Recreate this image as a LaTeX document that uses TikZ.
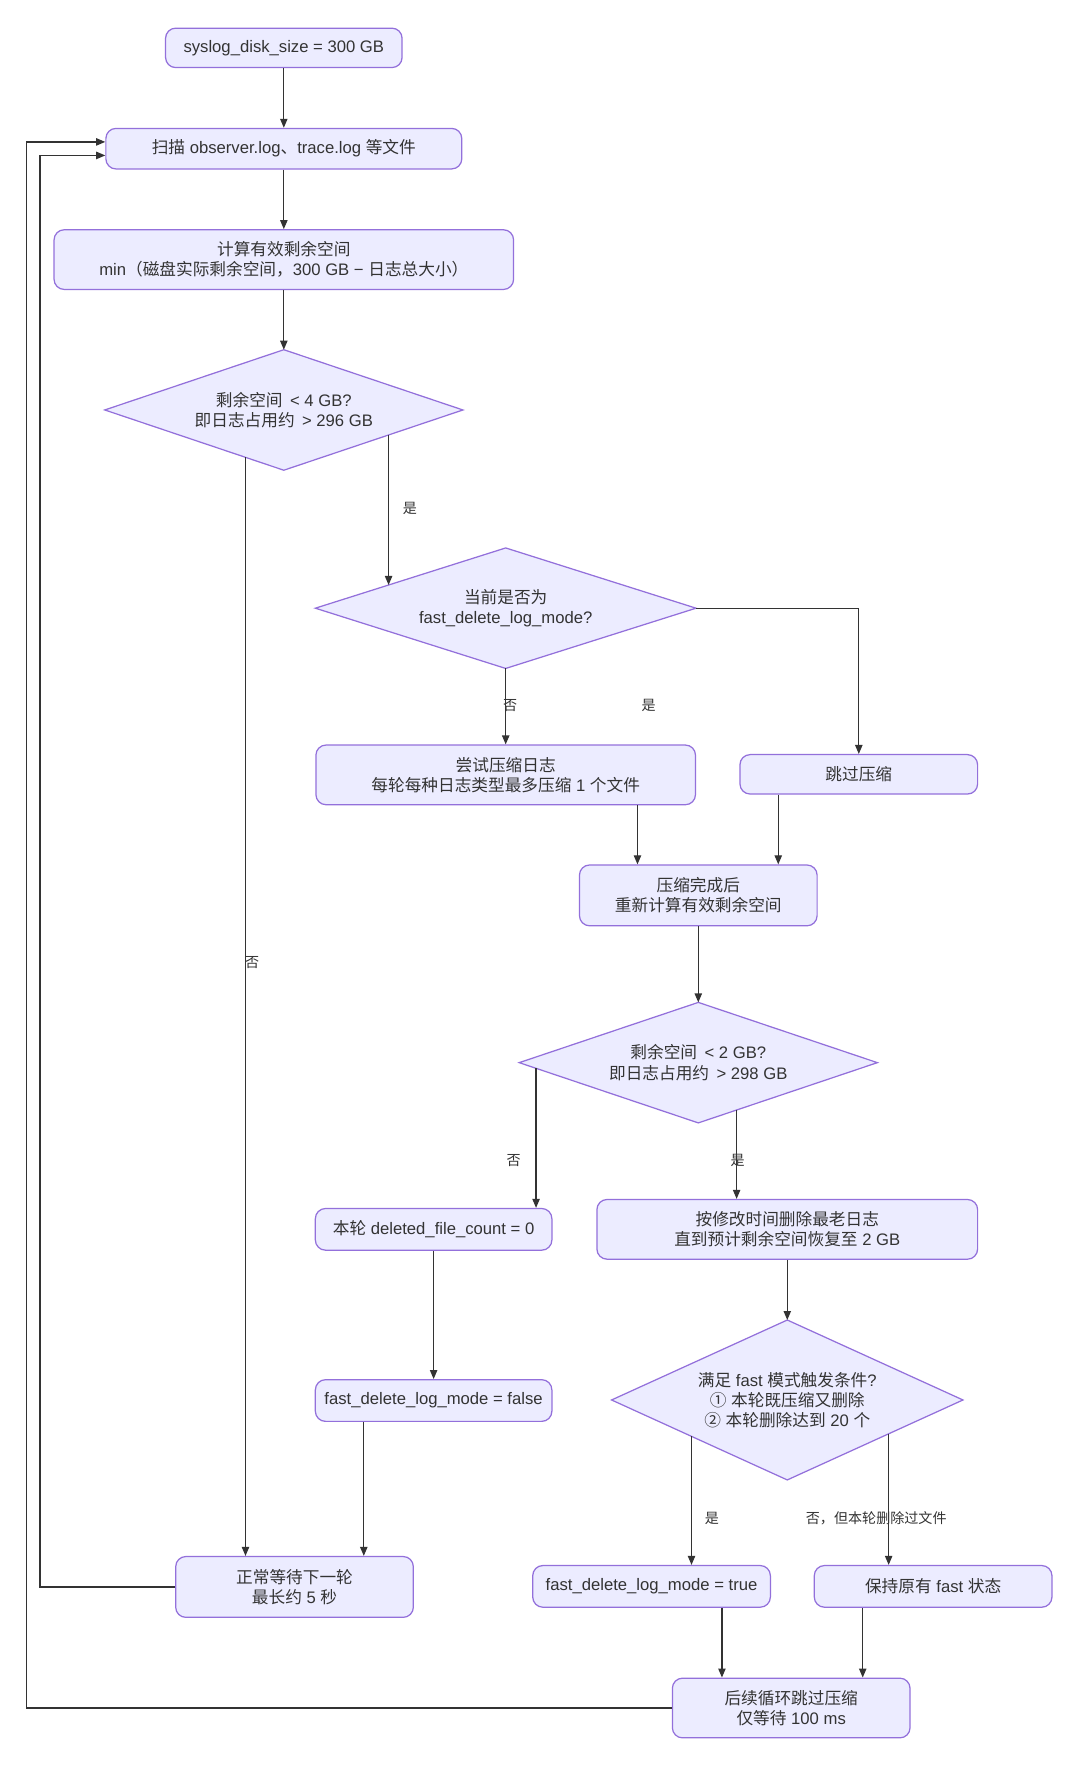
\documentclass[tikz,border=0pt]{standalone}
\usepackage{fontspec}
\setmainfont{Liberation Sans}
\newfontfamily\zhfont{Noto Sans CJK SC}
\newcommand\zh[1]{{\zhfont #1}}
\usetikzlibrary{shapes.geometric,arrows.meta,calc}
\definecolor{nfill}{HTML}{ECECFF}
\definecolor{nstroke}{HTML}{9370DB}
\definecolor{ln}{HTML}{333333}
\definecolor{tx}{HTML}{333333}
\begin{document}
\begin{tikzpicture}[x=1pt,y=-1pt,
  box/.style 2 args={rectangle, rounded corners=9pt, draw=nstroke, fill=nfill, line width=1.1pt,
     minimum width=#1, minimum height=#2, inner sep=0pt, align=center, text=tx,
     font=\fontsize{14.8}{18}\selectfont},
  dia/.style n args={3}{diamond, aspect=#3, draw=nstroke, fill=nfill, line width=1.1pt,
     minimum width=#1, minimum height=#2, inner sep=0pt, outer sep=0pt, align=center, text=tx,
     font=\fontsize{14.8}{18}\selectfont},
  arr/.style={draw=ln, line width=1.1pt, -{Triangle[length=8pt,width=6.5pt]}},
  lbl/.style={text=tx, font=\fontsize{12.5}{14}\selectfont, inner sep=1pt}
]
\useasboundingbox (0,0) rectangle (959,1568);

% nodes
\node[box={210pt}{35pt}] (syslog) at (252,42.5) {syslog\_disk\_size = 300 GB};
\node[box={316pt}{36pt}] (scan) at (252,132) {\zh{扫描} observer.log\zh{、}trace.log \zh{等文件}};
\node[box={408pt}{53pt}] (comp) at (252,230.5) {\zh{计算有效剩余空间}\\min\zh{（磁盘实际剩余空间，}300 GB − \zh{日志总大小）}};
\node[dia={318pt}{107pt}{2.97}] (D1) at (252,364) {\zh{剩余空间} \,< 4 GB?\\\zh{即日志占用约} \,> 296 GB};
\node[dia={338pt}{107pt}{3.16}] (D2) at (449,540) {\zh{当前是否为}\\fast\_delete\_log\_mode?};
\node[box={337pt}{53pt}] (try) at (449,688) {\zh{尝试压缩日志}\\\zh{每轮每种日志类型最多压缩} 1 \zh{个文件}};
\node[box={211pt}{35pt}] (skip) at (762.5,687.5) {\zh{跳过压缩}};
\node[box={211pt}{54pt}] (cdone) at (620,795) {\zh{压缩完成后}\\\zh{重新计算有效剩余空间}};
\node[dia={318pt}{107pt}{2.97}] (D3) at (620,943.5) {\zh{剩余空间} \,< 2 GB?\\\zh{即日志占用约} \,> 298 GB};
\node[box={210pt}{37pt}] (zero) at (385,1091.5) {\zh{本轮} deleted\_file\_count = 0};
\node[box={338pt}{53pt}] (del) at (699,1091.5) {\zh{按修改时间删除最老日志}\\\zh{直到预计剩余空间恢复至} 2 GB};
\node[box={210pt}{37pt}] (false) at (385,1243.5) {fast\_delete\_log\_mode = false};
\node[dia={312pt}{142pt}{2.2}] (D4) at (699,1243) {\zh{满足} fast \zh{模式触发条件}?\\\zh{①} \zh{本轮既压缩又删除}\\\zh{②} \zh{本轮删除达到} 20 \zh{个}};
\node[box={211pt}{54pt}] (wait) at (261.5,1409) {\zh{正常等待下一轮}\\\zh{最长约} 5 \zh{秒}};
\node[box={211pt}{37pt}] (true) at (578.5,1408.5) {fast\_delete\_log\_mode = true};
\node[box={211pt}{37pt}] (keep) at (828.5,1408.5) {\zh{保持原有} fast \zh{状态}};
\node[box={211pt}{53pt}] (next) at (702.5,1516.5) {\zh{后续循环跳过压缩}\\\zh{仅等待} 100 ms};

% exit / entry points on diamond borders
\coordinate (d1yes) at ($(D1.south)!0.585!(D1.east)$);
\coordinate (d1no) at ($(D1.south)!0.214!(D1.west)$);
\coordinate (d2in) at ($(D2.north)!0.615!(D2.west)$);
\coordinate (d3no) at ($(D3.south)!0.906!(D3.west)$);
\coordinate (d3yes) at ($(D3.south)!0.214!(D3.east)$);
\coordinate (d4yes) at ($(D4.south)!0.545!(D4.west)$);
\coordinate (d4no) at ($(D4.south)!0.577!(D4.east)$);

% connectors
\draw[arr] (syslog.south) -- (scan.north);
\draw[arr] (scan.south) -- (comp.north);
\draw[arr] (comp.south) -- (D1.north);
\draw[arr] (d1yes) -- (d1yes |- d2in);
\draw[arr] (d1no) -- (d1no |- wait.north);
\draw[arr] (D2.south) -- (try.north);
\draw[arr] (D2.east) -| (skip.north);
\draw[arr] ([xshift=117pt]try.south) -- ([xshift=117pt]try.south |- cdone.north);
\draw[arr] ([xshift=-71.5pt]skip.south) -- ([xshift=-71.5pt]skip.south |- cdone.north);
\draw[arr] (cdone.south) -- (D3.north);
\draw[arr] (d3no) -- (d3no |- zero.north);
\draw[arr] (d3yes) -- (d3yes |- del.north);
\draw[arr] (zero.south) -- (false.north);
\draw[arr] (del.south) -- (D4.north);
\draw[arr] (d4yes) -- (d4yes |- true.north);
\draw[arr] (d4no) -- (d4no |- keep.north);
\draw[arr] ([xshift=-62pt]false.south) -- ([xshift=-62pt]false.south |- wait.north);
\draw[arr] ([xshift=62.5pt]true.south) -- ([xshift=62.5pt]true.south |- next.north);
\draw[arr] ([xshift=-62.5pt]keep.south) -- ([xshift=-62.5pt]keep.south |- next.north);
\draw[arr] (wait.west) -- ++(-120,0) |- ([yshift=-6pt]scan.west);
\draw[arr] (next.west) -- ++(-573,0) |- ([yshift=6pt]scan.west);

% edge labels
\node[lbl] (l1) at (364,451) {\zh{是}};
\node[lbl] (l2) at (224,855) {\zh{否}};
\node[lbl] (l3) at (453,626) {\zh{否}};
\node[lbl] (l4) at (576,626) {\zh{是}};
\node[lbl] (l5) at (456,1030) {\zh{否}};
\node[lbl] (l6) at (655,1030) {\zh{是}};
\node[lbl] (l7) at (632,1348) {\zh{是}};
\node[lbl] (l8) at (778,1348) {\zh{否，但本轮删除过文件}};
\end{tikzpicture}
\end{document}
